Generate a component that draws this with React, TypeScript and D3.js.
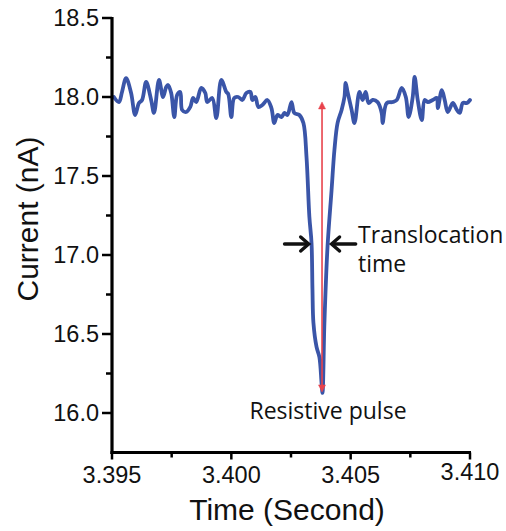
import React from "react";
import * as d3 from "d3";

const time: number[] = [
  3.39508, 3.39529, 3.39542, 3.39559, 3.3958, 3.39597, 3.39613, 3.39626, 3.39643, 3.39664,
  3.39676, 3.39697, 3.39714, 3.39727, 3.39735, 3.39748, 3.39761, 3.39773, 3.39786, 3.39794,
  3.39811, 3.39828, 3.3984, 3.39853, 3.39874, 3.39891, 3.39899, 3.3992, 3.39937, 3.39958,
  3.39979, 3.39987, 3.4, 3.40012, 3.40029, 3.40046, 3.40063, 3.4008, 3.40088, 3.40101,
  3.40113, 3.4013, 3.40151, 3.40168, 3.4018, 3.40193, 3.4021, 3.40223, 3.40235, 3.40252,
  3.40264, 3.40285, 3.40302, 3.40315, 3.40327, 3.40336, 3.4034, 3.40344, 3.40357, 3.40369,
  3.40378, 3.40382, 3.4039, 3.40403, 3.4042, 3.40432, 3.40445, 3.40462, 3.40474, 3.40479,
  3.40487, 3.40504, 3.40516, 3.40537, 3.4055, 3.40563, 3.40575, 3.40592, 3.40613, 3.4063,
  3.40634, 3.40651, 3.40676, 3.40693, 3.40714, 3.40731, 3.40743, 3.4076, 3.40768, 3.40781,
  3.40798, 3.4081, 3.40823, 3.40844, 3.40861, 3.40865, 3.40882, 3.40894, 3.40907, 3.40928,
  3.40945, 3.40957, 3.4097, 3.40987, 3.41,
];

const current: number[] = [
  18.0, 17.968, 18.032, 18.12, 18.025, 17.886, 17.962, 17.981, 18.095, 17.981,
  17.899, 18.108, 18.0, 18.063, 18.076, 18.025, 17.873, 18.013, 18.032, 17.918,
  17.905, 17.937, 17.994, 17.968, 18.057, 18.025, 17.968, 17.994, 17.867, 18.108,
  18.032, 18.019, 17.873, 17.994, 18.0, 17.981, 18.025, 18.032, 17.981, 18.0,
  17.937, 17.949, 17.981, 17.93, 17.835, 17.886, 17.873, 17.899, 17.886, 17.968,
  17.899, 17.886, 17.835, 17.62, 17.241, 17.076, 16.778, 16.57, 16.418, 16.354,
  16.19, 16.127, 16.57, 17.051, 17.411, 17.665, 17.835, 17.918, 18.0, 18.089,
  18.032, 17.918, 17.835, 18.032, 17.981, 18.032, 17.962, 17.981, 17.968, 17.899,
  17.835, 17.962, 17.968, 17.981, 18.057, 18.0, 17.873, 18.0, 18.127, 17.981,
  17.854, 17.981, 17.968, 17.981, 17.994, 17.93, 18.044, 17.981, 17.905, 17.962,
  17.918, 17.899, 17.962, 17.962, 17.981,
];

const xMajorTicks: number[] = [3.395, 3.4, 3.405, 3.41];
const xMinorTicks: number[] = [3.3975, 3.4025, 3.4075];
const yMajorTicks: number[] = [16.0, 16.5, 17.0, 17.5, 18.0, 18.5];
const yMinorTicks: number[] = [16.25, 16.75, 17.25, 17.75, 18.25];

// annotation anchors (data units)
const pulseTime = 3.4038;
const pulseTop = 17.956;
const pulseBottom = 16.146;
const widthLevel = 17.07;
const leftArrow: [number, number] = [3.40223, 3.40324]; // tail, tip
const rightArrow: [number, number] = [3.40521, 3.4042]; // tail, tip
const annotTextTime = 3.40531;

const W = 506;
const H = 531;

export default function App() {
  const x = d3.scaleLinear().domain([3.395, 3.41]).range([112, 470]);
  const y = d3.scaleLinear().domain([15.75, 18.5]).range([452.5, 18]);

  const pts = time.map((t, i) => [t, current[i]] as [number, number]);
  const line = d3
    .line<[number, number]>()
    .x((d) => x(d[0]))
    .y((d) => y(d[1]))
    .curve(d3.curveCatmullRom.alpha(0.5));

  const axisY = y(15.75);
  const axisX = x(3.395);
  const tickFont = "Liberation Sans, Arial, sans-serif";
  const annFont = "'Open Sans', sans-serif";

  const blackArrow = (tail: number, tip: number) => {
    const yy = y(widthLevel);
    const x0 = x(tail);
    const x1 = x(tip);
    const dir = Math.sign(x1 - x0);
    const hl = 8;
    return (
      <g stroke="#111" strokeWidth={3.4} fill="none" strokeLinecap="round" strokeLinejoin="miter">
        <line x1={x0} y1={yy} x2={x1 - dir * 1} y2={yy} />
        <polyline points={`${x1 - dir * hl},${yy - 7} ${x1},${yy} ${x1 - dir * hl},${yy + 7}`} />
      </g>
    );
  };

  const px = x(pulseTime);
  const pTop = y(pulseTop);
  const pBot = y(pulseBottom);

  return (
    <svg
      width={W}
      height={H}
      style={{ position: "absolute", left: 0, top: 0, background: "#fff" }}
    >
      {/* trace */}
      <path
        d={line(pts) || ""}
        fill="none"
        stroke="#3a55a8"
        strokeWidth={3.8}
        strokeLinejoin="round"
        strokeLinecap="round"
      />

      {/* red arrow */}
      <g stroke="#e8434c" fill="#e8434c">
        <line x1={px} y1={pTop + 4} x2={px} y2={pBot - 4} strokeWidth={1.6} />
        <polygon points={`${px},${pTop - 2} ${px - 3.5},${pTop + 5} ${px + 3.5},${pTop + 5}`} strokeWidth={0.5} />
        <polygon points={`${px},${pBot + 2} ${px - 3.5},${pBot - 5} ${px + 3.5},${pBot - 5}`} strokeWidth={0.5} />
      </g>

      {/* black arrows */}
      {blackArrow(leftArrow[0], leftArrow[1])}
      {blackArrow(rightArrow[0], rightArrow[1])}

      {/* annotations */}
      <g fontFamily={annFont} fontSize={23} fill="#111">
        <text x={x(annotTextTime)} y={y(widthLevel) - 1}>Translocation</text>
        <text x={x(annotTextTime)} y={y(widthLevel) + 28}>time</text>
        <text x={px + 6} y={y(pulseBottom) + 29} textAnchor="middle">Resistive pulse</text>
      </g>

      {/* axes */}
      <g stroke="#000" strokeWidth={3.2} fill="none">
        <line x1={axisX} y1={y(18.5) - 1} x2={axisX} y2={axisY + 1.5} />
        <line x1={axisX - 1.5} y1={axisY} x2={x(3.41) + 1} y2={axisY} />
        {yMajorTicks.map((v) => (
          <line key={"ym" + v} x1={axisX - 10} x2={axisX} y1={y(v)} y2={y(v)} strokeWidth={2.5} />
        ))}
        {yMinorTicks.map((v) => (
          <line key={"yn" + v} x1={axisX - 6} x2={axisX} y1={y(v)} y2={y(v)} strokeWidth={2.5} />
        ))}
        {xMajorTicks.map((v) => (
          <line key={"xm" + v} x1={x(v)} x2={x(v)} y1={axisY} y2={axisY + 7} strokeWidth={2.5} />
        ))}
        {xMinorTicks.map((v) => (
          <line key={"xn" + v} x1={x(v)} x2={x(v)} y1={axisY} y2={axisY + 5} strokeWidth={2.5} />
        ))}
      </g>

      <g fontFamily={tickFont} fontSize={23.5} fill="#111">
        {yMajorTicks.map((v) => (
          <text key={"yl" + v} x={axisX - 13} y={y(v) + 8} textAnchor="end">
            {d3.format(".1f")(v)}
          </text>
        ))}
        {xMajorTicks.map((v) => (
          <text key={"xl" + v} x={x(v)} y={axisY + 30 - (v === 3.41 ? 3 : 0)} textAnchor="middle">
            {d3.format(".3f")(v)}
          </text>
        ))}
      </g>

      <g fontFamily={tickFont} fontSize={30} fill="#111">
        <text x={287} y={520} textAnchor="middle">Time (Second)</text>
        <text transform={`translate(38,219) rotate(-90)`} textAnchor="middle">Current (nA)</text>
      </g>
    </svg>
  );
}
